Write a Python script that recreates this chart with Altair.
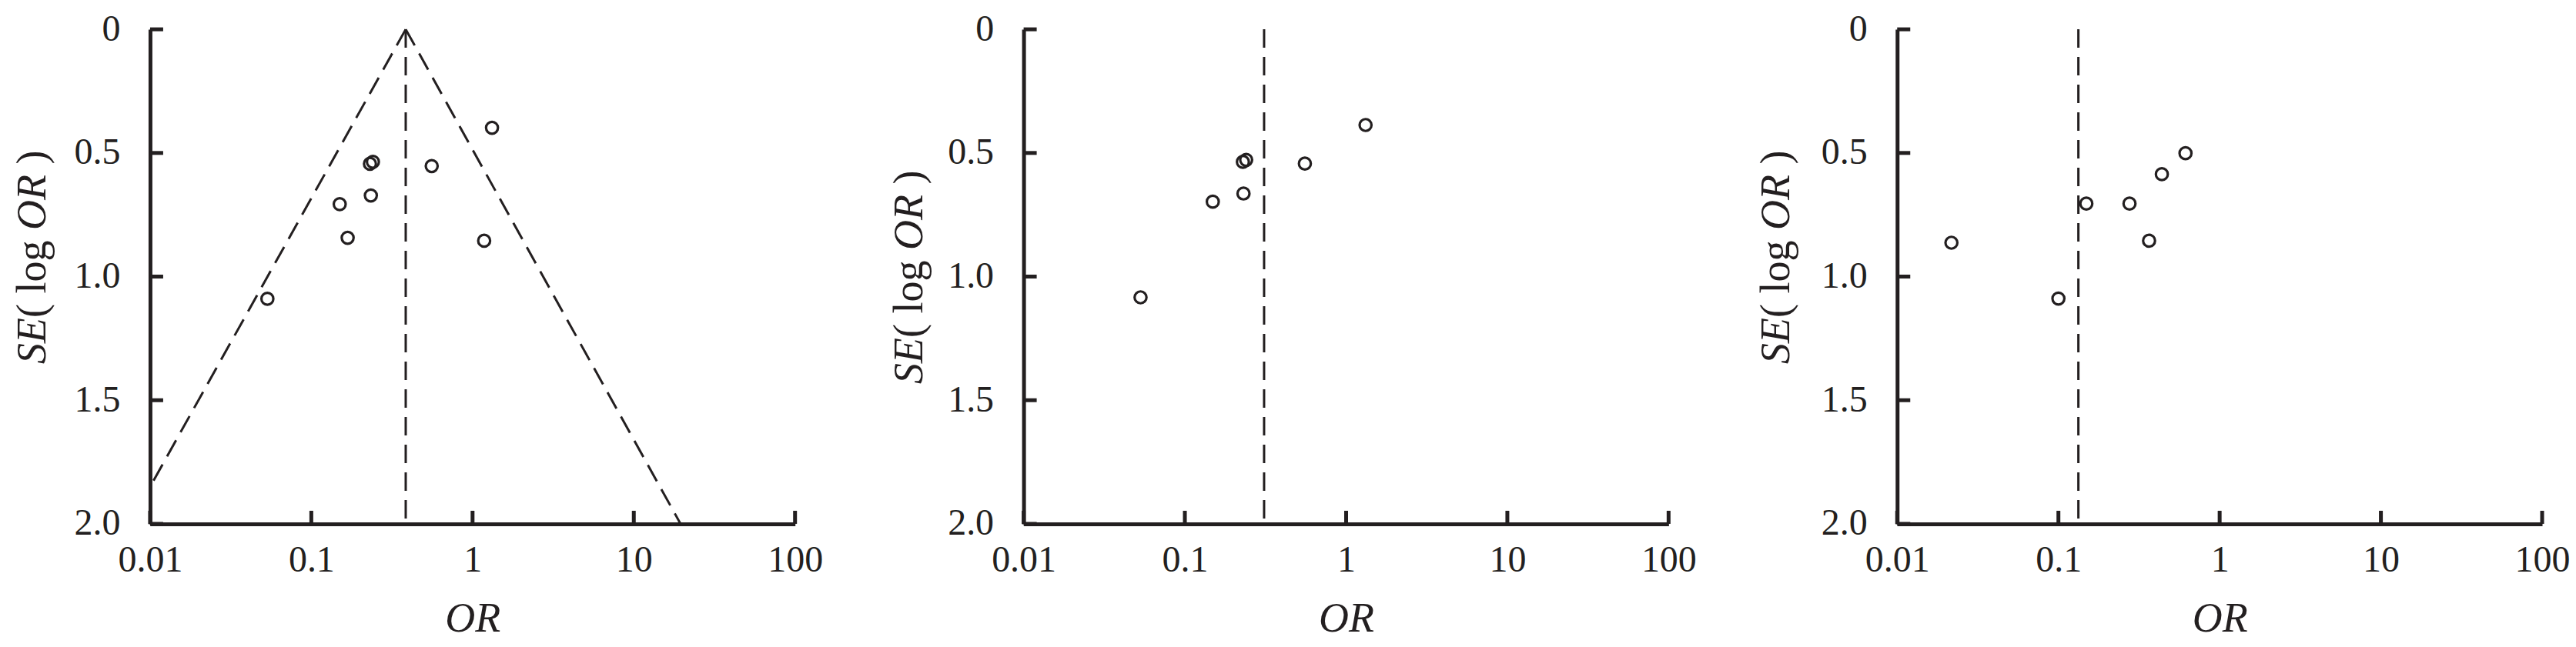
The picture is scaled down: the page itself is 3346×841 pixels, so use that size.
import altair as alt
import pandas as pd

# ---------------- data ----------------
X_TICKS = [0.01, 0.1, 1, 10, 100]
Y_TICKS = [0, 0.5, 1.0, 1.5, 2.0]

# panel 1
A_OR = [1.32, 0.231, 0.241, 0.558, 0.234, 0.150, 0.168, 1.18, 0.0534]
A_SE = [0.398, 0.544, 0.536, 0.553, 0.672, 0.707, 0.843, 0.855, 1.090]
A_POOLED = 0.385
A_FUNNEL_LEFT_OR = [0.385, 0.01]
A_FUNNEL_LEFT_SE = [0.0, 1.85]
A_FUNNEL_RIGHT_OR = [0.385, 19.5]
A_FUNNEL_RIGHT_SE = [0.0, 2.0]

# panel 2
B_OR = [1.32, 0.229, 0.240, 0.555, 0.231, 0.149, 0.0531]
B_SE = [0.387, 0.536, 0.528, 0.543, 0.664, 0.697, 1.084]
B_POOLED = 0.31

# panel 3
C_OR = [0.614, 0.438, 0.149, 0.276, 0.365, 0.0217, 0.100]
C_SE = [0.501, 0.586, 0.705, 0.705, 0.855, 0.863, 1.089]
C_POOLED = 0.133

# ---------------- style ----------------
INK = "#231f20"
FONT = "Liberation Serif, Times New Roman, serif"
W, H = 838, 643
DASH = [24, 12]
TICK_LEN = 17

xs = alt.Scale(type="log", domain=[0.01, 100])
ys = alt.Scale(domain=[0, 2], reverse=True)

x_axis = alt.Axis(
    values=X_TICKS, format="~g", title="OR", titleFontStyle="italic",
    labelFlush=False, labelOverlap=False, labelBaseline="alphabetic",
    labelPadding=62, titleBaseline="alphabetic", titleY=140,
)
y_axis = alt.Axis(
    values=Y_TICKS, title="", labelFlush=False, labelOverlap=False,
    labelPadding=39,
    labelExpr="datum.value == 0 ? '0' : format(datum.value, '.1f')",
)


def X():
    return alt.X("or:Q", scale=xs, axis=x_axis)


def Y(field="se"):
    return alt.Y(f"{field}:Q", scale=ys, axis=y_axis)


def panel(or_vals, se_vals, pooled, title_dy, title_x, funnel=False):
    layers = []
    # pooled estimate line
    pool_df = pd.DataFrame({"or": [pooled], "se": [0.0], "se2": [2.0]})
    layers.append(
        alt.Chart(pool_df).mark_rule(color=INK, strokeWidth=3, strokeDash=DASH)
        .encode(x=X(), y=Y(), y2="se2:Q")
    )
    if funnel:
        for lo, ls in [(A_FUNNEL_LEFT_OR, A_FUNNEL_LEFT_SE),
                       (A_FUNNEL_RIGHT_OR, A_FUNNEL_RIGHT_SE)]:
            fdf = pd.DataFrame({"or": lo, "se": ls})
            layers.append(
                alt.Chart(fdf).mark_line(color=INK, strokeWidth=3, strokeDash=DASH)
                .encode(x=X(), y=Y(), order=alt.Order("se:Q"))
            )
    # study points
    pts = pd.DataFrame({"or": or_vals, "se": se_vals})
    layers.append(
        alt.Chart(pts).mark_point(shape="circle", filled=False, size=240,
                                  strokeWidth=3.2, color=INK, opacity=1)
        .encode(x=X(), y=Y())
    )
    # inward ticks
    yt = pd.DataFrame({"se": Y_TICKS})
    layers.append(
        alt.Chart(yt).mark_rule(color=INK, strokeWidth=5)
        .encode(y=Y(), x=alt.value(0), x2=alt.value(TICK_LEN))
    )
    xt = pd.DataFrame({"or": X_TICKS})
    layers.append(
        alt.Chart(xt).mark_rule(color=INK, strokeWidth=5)
        .encode(x=X(), y=alt.value(H), y2=alt.value(H - TICK_LEN))
    )
    # y title: SE( log OR ) with italic parts
    one = pd.DataFrame({"k": [0]})
    pieces = [("SE", "italic", 435), ("( log", "normal", 375),
              ("OR", "italic", 261), (")", "normal", 175.5)]
    for txt, style, ypos in pieces:
        layers.append(
            alt.Chart(one).mark_text(
                text=txt, font=FONT, fontSize=54, fontStyle=style, color=INK,
                angle=270, align="left", baseline="alphabetic")
            .encode(x=alt.value(title_x), y=alt.value(ypos + title_dy))
        )
    return alt.layer(*layers).properties(width=W, height=H)


p1 = panel(A_OR, A_SE, A_POOLED, 0, -136, funnel=True)
p2 = panel(B_OR, B_SE, B_POOLED, 26, -132)
p3 = panel(C_OR, C_SE, C_POOLED, 0, -140)

chart = (
    alt.hconcat(p1, p2, p3, spacing=297, bounds="flush")
    .properties(padding={"left": 8, "top": 6, "right": 0, "bottom": 0})
    .configure_axis(
        domainColor=INK, domainWidth=5, labelFont=FONT, titleFont=FONT,
        labelColor=INK, titleColor=INK, grid=False, ticks=False, tickSize=0,
        labelFontSize=48, titleFontSize=54, titleFontWeight="normal",
    )
    .configure_view(strokeOpacity=0)
)

chart.save("out.html", embed_options={"renderer": "svg", "actions": False})
